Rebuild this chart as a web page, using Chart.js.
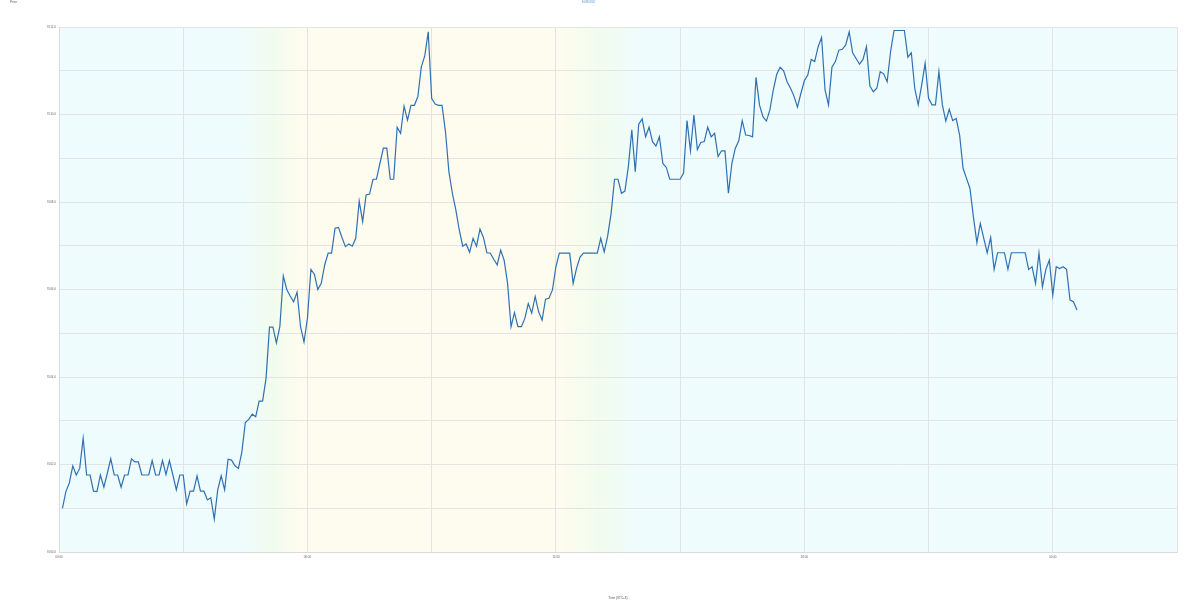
<!DOCTYPE html>
<html>
<head>
<meta charset="utf-8">
<script src="https://cdn.jsdelivr.net/npm/chart.js@4/dist/chart.umd.min.js"></script>
<style>
html,body{margin:0;padding:0;background:#ffffff;}
#wrap{width:1200px;height:600px;position:relative;}
</style>
</head>
<body>
<div id="wrap"><canvas id="c"></canvas></div>
<script>
// ---- text ----
const chartTitle = 'Price';
const seriesName = 'EUR/USD';
const xAxisTitle = 'Time (UTC+8)';

// ---- categories (5-minute steps, minutes after start) ----
const stepMinutes = 5;

// ---- series values ----
const prices = [
7001.00,7001.38,7001.58,7001.97,7001.76,7001.91,7002.60,7001.76,7001.76,7001.39,
7001.38,7001.76,7001.48,7001.80,7002.13,7001.76,7001.76,7001.48,7001.76,7001.76,
7002.13,7002.06,7002.06,7001.76,7001.76,7001.76,7002.09,7001.76,7001.76,7002.09,
7001.77,7002.09,7001.76,7001.42,7001.76,7001.76,7001.10,7001.39,7001.39,7001.74,
7001.39,7001.39,7001.19,7001.24,7000.75,7001.42,7001.74,7001.42,7002.12,7002.10,
7001.97,7001.91,7002.29,7002.96,7003.03,7003.15,7003.09,7003.45,7003.45,7003.97,
7005.14,7005.14,7004.78,7005.15,7006.31,7006.00,7005.85,7005.72,7005.94,7005.15,
7004.80,7005.34,7006.46,7006.35,7006.00,7006.14,7006.56,7006.83,7006.83,7007.40,
7007.42,7007.19,7006.98,7007.04,7006.99,7007.17,7008.02,7007.55,7008.16,7008.18,
7008.52,7008.52,7008.88,7009.23,7009.23,7008.52,7008.52,7009.71,7009.57,7010.19,
7009.87,7010.21,7010.21,7010.41,7011.09,7011.34,7011.89,7010.37,7010.24,7010.21,
7010.21,7009.61,7008.69,7008.20,7007.82,7007.36,7006.99,7007.04,7006.85,7007.17,
7006.99,7007.38,7007.19,7006.84,7006.83,7006.69,7006.56,7006.90,7006.67,7006.14,
7005.15,7005.47,7005.15,7005.15,7005.34,7005.68,7005.46,7005.84,7005.49,7005.30,
7005.78,7005.80,7005.99,7006.52,7006.83,7006.83,7006.83,7006.83,7006.14,7006.49,
7006.74,7006.83,7006.83,7006.83,7006.83,7006.83,7007.17,7006.86,7007.22,7007.74,
7008.52,7008.52,7008.20,7008.25,7008.81,7009.65,7008.69,7009.78,7009.90,7009.49,
7009.71,7009.38,7009.28,7009.49,7008.88,7008.79,7008.52,7008.52,7008.52,7008.52,
7008.66,7009.86,7009.17,7009.99,7009.20,7009.36,7009.38,7009.71,7009.49,7009.57,
7009.04,7009.17,7009.17,7008.20,7008.88,7009.23,7009.40,7009.86,7009.53,7009.52,
7009.49,7010.85,7010.22,7009.95,7009.85,7010.10,7010.56,7010.92,7011.08,7011.00,
7010.75,7010.60,7010.42,7010.17,7010.48,7010.77,7010.90,7011.26,7011.21,
7011.55,7011.76,7010.56,7010.22,7011.08,7011.21,7011.47,7011.49,7011.59,7011.89,
7011.41,7011.28,7011.15,7011.26,7011.55,7010.65,7010.52,7010.60,7010.98,7010.93,
7010.75,7011.44,7011.92,7011.92,7011.92,7011.92,7011.31,7011.41,7010.60,7010.22,
7010.67,7011.17,7010.37,7010.22,7010.22,7010.98,7010.22,7009.85,7010.12,7009.86,
7009.91,7009.53,7008.77,7008.54,7008.31,7007.66,7007.07,7007.51,7007.17,7006.84,
7007.19,7006.46,7006.84,7006.84,7006.84,7006.46,7006.84,7006.84,7006.84,7006.84,
7006.84,7006.46,7006.52,7006.14,7006.83,7006.06,7006.46,7006.67,7005.87,7006.52,
7006.48,7006.52,7006.46,7005.76,7005.72,7005.53
];
const times = prices.map((_, k) => (k + 1) * stepMinutes);

// ---- tick labels ----
const xTickLabels = ['00:00', '06:00', '12:00', '18:00', '00:00'];
const yTickLabels = ['7000.0', '7002.0', '7004.0', '7006.0', '7008.0', '7010.0', '7012.0'];

// ---- background session stops (minutes, colour) ----
const sessionStops = [0, 265, 310, 350, 725, 785, 840, 1620];
const sessionColors = ['#eefcfd', '#eefcfd', '#f1fcee', '#fefcee', '#fefcee', '#f1fcee', '#eefcfd', '#eefcfd'];

Chart.defaults.font.family = "'Liberation Sans', 'DejaVu Sans', sans-serif";

const sessionBg = {
  id: 'sessionBg',
  beforeDraw(chart) {
    const {ctx, chartArea: a, scales: {x}} = chart;
    const g = ctx.createLinearGradient(a.left, 0, a.right, 0);
    const w = a.right - a.left;
    sessionStops.forEach((m, k) => {
      let p = (x.getPixelForValue(m) - a.left) / w;
      p = Math.min(1, Math.max(0, p));
      g.addColorStop(p, sessionColors[k]);
    });
    ctx.save();
    ctx.fillStyle = g;
    ctx.fillRect(a.left, a.top, w, a.bottom - a.top);
    ctx.restore();
  },
  afterDraw(chart) {
    const ctx = chart.ctx;
    ctx.save();
    ctx.font = "3px 'Liberation Sans', sans-serif";
    ctx.fillStyle = '#555';
    ctx.textAlign = 'left';
    ctx.textBaseline = 'middle';
    ctx.fillText(chartTitle, 10, 2);
    ctx.restore();
  }
};

new Chart(document.getElementById('c'), {
  type: 'line',
  data: {
    datasets: [{
      label: seriesName,
      data: times.map((t, k) => ({x: t, y: prices[k]})),
      borderColor: '#2f70b3',
      borderWidth: 1.2,
      pointRadius: 0,
      tension: 0,
      fill: false
    }]
  },
  options: {
    responsive: true,
    maintainAspectRatio: false,
    animation: false,
    layout: {padding: {left: 0, right: 23, top: 0, bottom: 0}},
    plugins: {
      legend: {display: false},
      tooltip: {enabled: false},
      title: {
        display: true,
        text: seriesName,
        color: '#5b9bd5',
        font: {size: 3, weight: 'normal'},
        padding: {top: 0, bottom: 23.4}
      }
    },
    scales: {
      x: {
        type: 'linear',
        min: 0,
        max: 1620,
        afterFit(s) { s.height = 48; },
        border: {color: '#dadada'},
        grid: {color: '#e4e4e4', drawTicks: false},
        ticks: {
          stepSize: 180,
          autoSkip: false,
          maxRotation: 0,
          padding: 3,
          color: '#666',
          font: {size: 3},
          callback: (v) => (v % 360 === 0 ? xTickLabels[v / 360] : '')
        },
        title: {
          display: true,
          text: xAxisTitle,
          color: '#555',
          font: {size: 3},
          padding: {top: 0, bottom: 0.5}
        }
      },
      y: {
        min: 7000,
        max: 7012,
        afterFit(s) { s.width = 59; },
        border: {color: '#dadada'},
        grid: {color: '#e4e4e4', drawTicks: false},
        ticks: {
          stepSize: 1,
          autoSkip: false,
          padding: 3,
          color: '#666',
          font: {size: 3},
          callback: (v) => (Math.round(v - 7000) % 2 === 0 ? yTickLabels[Math.round(v - 7000) / 2] : '')
        }
      }
    }
  },
  plugins: [sessionBg]
});
</script>
</body>
</html>
